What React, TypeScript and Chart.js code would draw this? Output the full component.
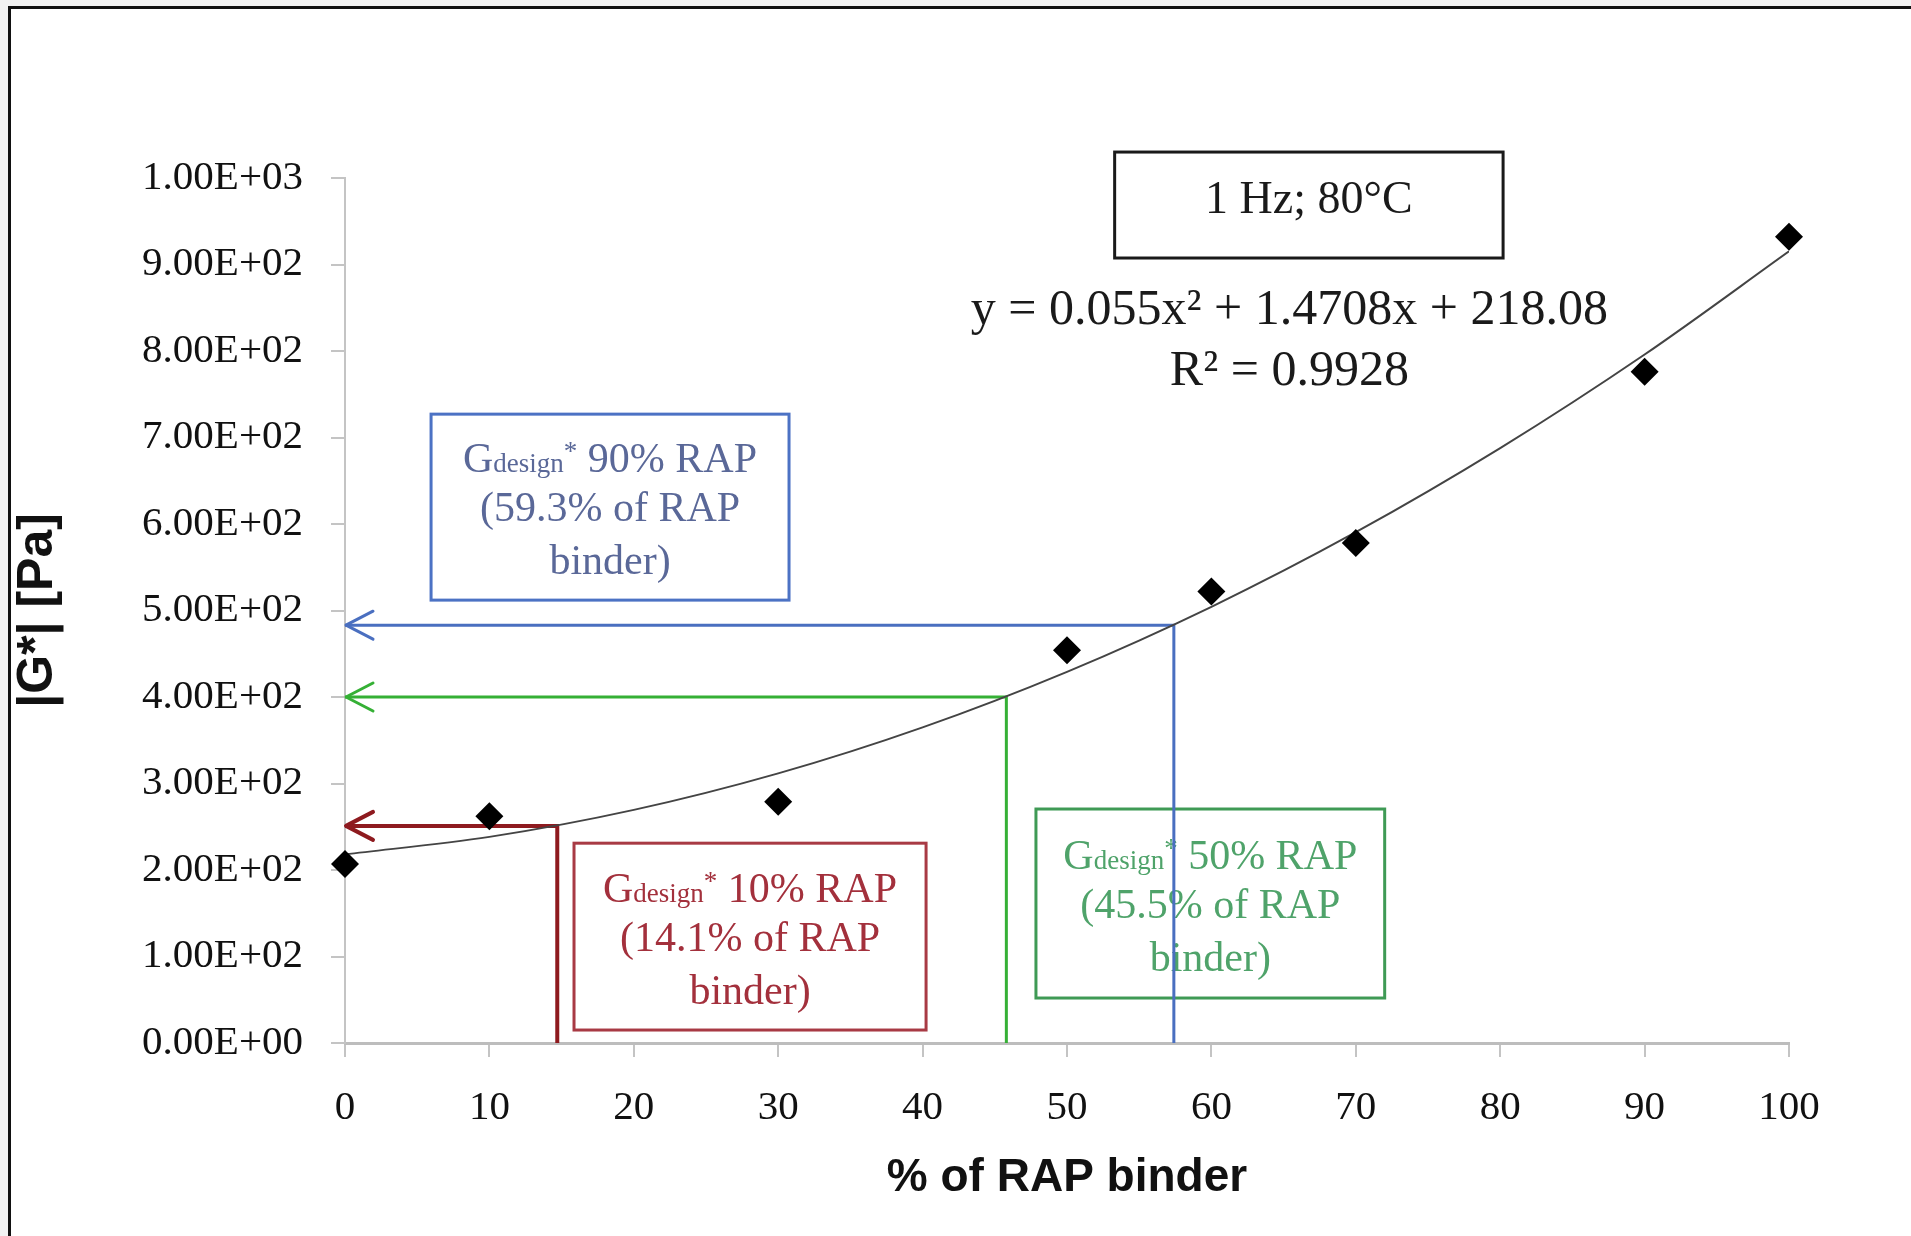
import React, { useEffect, useRef } from 'react';
import { Chart, registerables } from 'chart.js';

Chart.register(...registerables);

// ---- data ----
const rapPercent = [0, 10, 30, 50, 60, 70, 90, 100];
const gStar = [207, 262, 279, 454, 522, 578, 776, 932];

const trendX = [0, 10, 20, 30, 40, 50, 60, 70, 80, 90, 100];
const trendY = [218.1, 238.3, 269.5, 311.7, 364.9, 429.1, 504.3, 590.5, 687.7, 795.9, 915.2];

const xTickLabels = ['0', '10', '20', '30', '40', '50', '60', '70', '80', '90', '100'];
const yTickLabels = [
  '0.00E+00', '1.00E+02', '2.00E+02', '3.00E+02', '4.00E+02', '5.00E+02',
  '6.00E+02', '7.00E+02', '8.00E+02', '9.00E+02', '1.00E+03',
];

const guideNames = ['10% RAP', '50% RAP', '90% RAP'];
const guideNotes = ['(14.1% of RAP', '(45.5% of RAP', '(59.3% of RAP'];
const guideRap = [14.7, 45.8, 57.4];
const guideG = [251, 400, 483];

const conditionText = '1 Hz; 80°C';
const equationText = 'y = 0.055x² + 1.4708x + 218.08';
const r2Text = 'R² = 0.9928';

// ---- styles / layout ----
const W = 1911;
const H = 1236;
const SERIF = '"Liberation Serif", "DejaVu Serif", serif';
const SANS_BOLD = '"Liberation Sans", Arial, sans-serif';

const guideLine = ['#8e1a1f', '#35b035', '#4a6fc0'];
const guideWidth = [4, 3, 3];
const boxBorder = ['#a83a44', '#3f9a55', '#4c72c4'];
const boxText = ['#a3303c', '#4fa36a', '#5a6898'];
// box extents in data units: [x0, x1, yTop, yBottom]
const boxExtent = [
  [15.86, 40.24, 231, 15],
  [47.85, 72.0, 270.5, 52],
  [5.96, 30.75, 727, 512],
];
const condBox = [53.3, 80.2, 1030, 907.5];
const eqPos = [65.4, 846];
const r2Pos = [65.4, 776];

const framePlugin = {
  id: 'frame',
  beforeDraw(chart: any) {
    const ctx = chart.ctx;
    ctx.save();
    ctx.fillStyle = '#f2f2f2';
    ctx.fillRect(0, 0, W, H);
    ctx.fillStyle = '#ffffff';
    ctx.fillRect(8, 6, W - 8, H - 6);
    ctx.fillStyle = '#111111';
    ctx.fillRect(8, 6, W - 8, 3);
    ctx.fillRect(8, 6, 3, H - 6);
    ctx.restore();
  },
};

function drawGLine(ctx: any, cx: number, cy: number, rest: string, color: string) {
  const big = `42px ${SERIF}`;
  const small = `27px ${SERIF}`;
  ctx.font = big;
  const wG = ctx.measureText('G').width;
  const wRest = ctx.measureText(' ' + rest).width;
  ctx.font = small;
  const wSub = ctx.measureText('design').width;
  const wStar = ctx.measureText('*').width;
  const total = wG + wSub + wStar + wRest;
  let x = cx - total / 2;
  ctx.fillStyle = color;
  ctx.textAlign = 'left';
  ctx.textBaseline = 'alphabetic';
  const base = cy + 14;
  ctx.font = big;
  ctx.fillText('G', x, base);
  x += wG;
  ctx.font = small;
  ctx.fillText('design', x, base);
  x += wSub;
  ctx.fillText('*', x, base - 12);
  x += wStar;
  ctx.font = big;
  ctx.fillText(' ' + rest, x, base);
}

const annotationPlugin = {
  id: 'annotations',
  beforeDatasetsDraw(chart: any) {
    const ctx = chart.ctx;
    const xs = chart.scales.x;
    const ys = chart.scales.y;
    ctx.save();
    for (let i = 0; i < boxExtent.length; i++) {
      const [x0, x1, yt, yb] = boxExtent[i];
      const l = xs.getPixelForValue(x0);
      const r = xs.getPixelForValue(x1);
      const t = ys.getPixelForValue(yt);
      const b = ys.getPixelForValue(yb);
      ctx.fillStyle = '#ffffff';
      ctx.fillRect(l, t, r - l, b - t);
      ctx.strokeStyle = boxBorder[i];
      ctx.lineWidth = 3;
      ctx.strokeRect(l, t, r - l, b - t);
      const cx = (l + r) / 2;
      const cy = (t + b) / 2;
      drawGLine(ctx, cx, cy - 49, guideNames[i], boxText[i]);
      ctx.font = `42px ${SERIF}`;
      ctx.fillStyle = boxText[i];
      ctx.textAlign = 'center';
      ctx.textBaseline = 'middle';
      ctx.fillText(guideNotes[i], cx, cy + 3);
      ctx.fillText('binder)', cx, cy + 56);
    }
    // condition box
    {
      const [x0, x1, yt, yb] = condBox;
      const l = xs.getPixelForValue(x0);
      const r = xs.getPixelForValue(x1);
      const t = ys.getPixelForValue(yt);
      const b = ys.getPixelForValue(yb);
      ctx.fillStyle = '#ffffff';
      ctx.fillRect(l, t, r - l, b - t);
      ctx.strokeStyle = '#1a1a1a';
      ctx.lineWidth = 3;
      ctx.strokeRect(l, t, r - l, b - t);
      ctx.fillStyle = '#1a1a1a';
      ctx.font = `46px ${SERIF}`;
      ctx.textAlign = 'center';
      ctx.textBaseline = 'middle';
      ctx.fillText(conditionText, (l + r) / 2, (t + b) / 2 - 4);
    }
    ctx.fillStyle = '#1a1a1a';
    ctx.font = `50px ${SERIF}`;
    ctx.textAlign = 'center';
    ctx.textBaseline = 'middle';
    ctx.fillText(equationText, xs.getPixelForValue(eqPos[0]), ys.getPixelForValue(eqPos[1]));
    ctx.fillText(r2Text, xs.getPixelForValue(r2Pos[0]), ys.getPixelForValue(r2Pos[1]));
    ctx.restore();
  },
  afterDatasetsDraw(chart: any) {
    const ctx = chart.ctx;
    const xs = chart.scales.x;
    const ys = chart.scales.y;
    ctx.save();
    for (let i = 0; i < guideG.length; i++) {
      const px = xs.getPixelForValue(0) + 1;
      const py = ys.getPixelForValue(guideG[i]);
      ctx.strokeStyle = guideLine[i];
      ctx.lineWidth = guideWidth[i];
      ctx.lineCap = 'round';
      ctx.lineJoin = 'round';
      ctx.beginPath();
      ctx.moveTo(px + 27, py - 14);
      ctx.lineTo(px, py);
      ctx.lineTo(px + 27, py + 14);
      ctx.stroke();
    }
    ctx.restore();
  },
};

export default function App() {
  const ref = useRef<HTMLCanvasElement | null>(null);

  useEffect(() => {
    if (!ref.current) return;
    Chart.defaults.font.family = SERIF;
    const guideSets = guideG.map((g, i) => ({
      type: 'line' as const,
      label: 'guide ' + guideNames[i],
      data: [
        { x: 0, y: g },
        { x: guideRap[i], y: g },
        { x: guideRap[i], y: 0 },
      ],
      borderColor: guideLine[i],
      borderWidth: guideWidth[i],
      pointRadius: 0,
      tension: 0,
      fill: false,
      clip: false as any,
    }));
    const chart = new Chart(ref.current, {
      type: 'scatter',
      data: {
        datasets: [
          {
            type: 'scatter',
            label: '|G*|',
            data: rapPercent.map((x, i) => ({ x, y: gStar[i] })),
            pointStyle: 'rectRot',
            pointRadius: 14,
            pointHoverRadius: 14,
            backgroundColor: '#000000',
            borderColor: '#000000',
            borderWidth: 0,
            clip: false as any,
          },
          {
            type: 'line',
            label: 'Poly. trend',
            data: trendX.map((x, i) => ({ x, y: trendY[i] })),
            borderColor: '#444444',
            borderWidth: 2,
            pointRadius: 0,
            cubicInterpolationMode: 'monotone',
            fill: false,
          },
          ...guideSets,
        ] as any,
      },
      options: {
        animation: false,
        responsive: false,
        maintainAspectRatio: false,
        layout: { padding: { top: 178, right: 122, bottom: 20, left: 0 } },
        plugins: {
          legend: { display: false },
          tooltip: { enabled: false },
        },
        scales: {
          x: {
            type: 'linear',
            min: 0,
            max: 100,
            afterFit: (s: any) => {
              s.height = 173;
            },
            ticks: {
              stepSize: 10,
              padding: 27,
              color: '#111111',
              autoSkip: false,
              maxRotation: 0,
              font: { family: SERIF, size: 41 },
              callback: (v: any) => xTickLabels[Math.round(Number(v) / 10)] ?? '',
            },
            grid: {
              drawOnChartArea: false,
              drawTicks: true,
              tickLength: 14,
              color: '#c4c4c4',
              lineWidth: 2,
            },
            border: { display: true, color: '#bdbdbd', width: 3 },
            title: {
              display: true,
              text: '% of RAP binder',
              color: '#111111',
              font: { family: SANS_BOLD, size: 46, weight: 'bold' },
              padding: { top: 0, bottom: 10 },
            },
          },
          y: {
            type: 'linear',
            min: 0,
            max: 1000,
            afterFit: (s: any) => {
              s.width = 345;
            },
            ticks: {
              stepSize: 100,
              padding: 28,
              color: '#111111',
              font: { family: SERIF, size: 41 },
              callback: (v: any) => yTickLabels[Math.round(Number(v) / 100)] ?? '',
            },
            grid: {
              drawOnChartArea: false,
              drawTicks: true,
              tickLength: 14,
              color: '#c4c4c4',
              lineWidth: 2,
            },
            border: { display: true, color: '#c4c4c4', width: 2 },
            title: {
              display: true,
              text: '|G*| [Pa]',
              color: '#111111',
              font: { family: SANS_BOLD, size: 50, weight: 'bold' },
              padding: { top: 8, bottom: 0 },
            },
          },
        },
      },
      plugins: [framePlugin, annotationPlugin],
    });
    return () => chart.destroy();
  }, []);

  return (
    <div style={{ position: 'absolute', left: 0, top: 0, width: W, height: H, overflow: 'hidden' }}>
      <canvas ref={ref} width={W} height={H} style={{ display: 'block', width: W, height: H }} />
    </div>
  );
}
